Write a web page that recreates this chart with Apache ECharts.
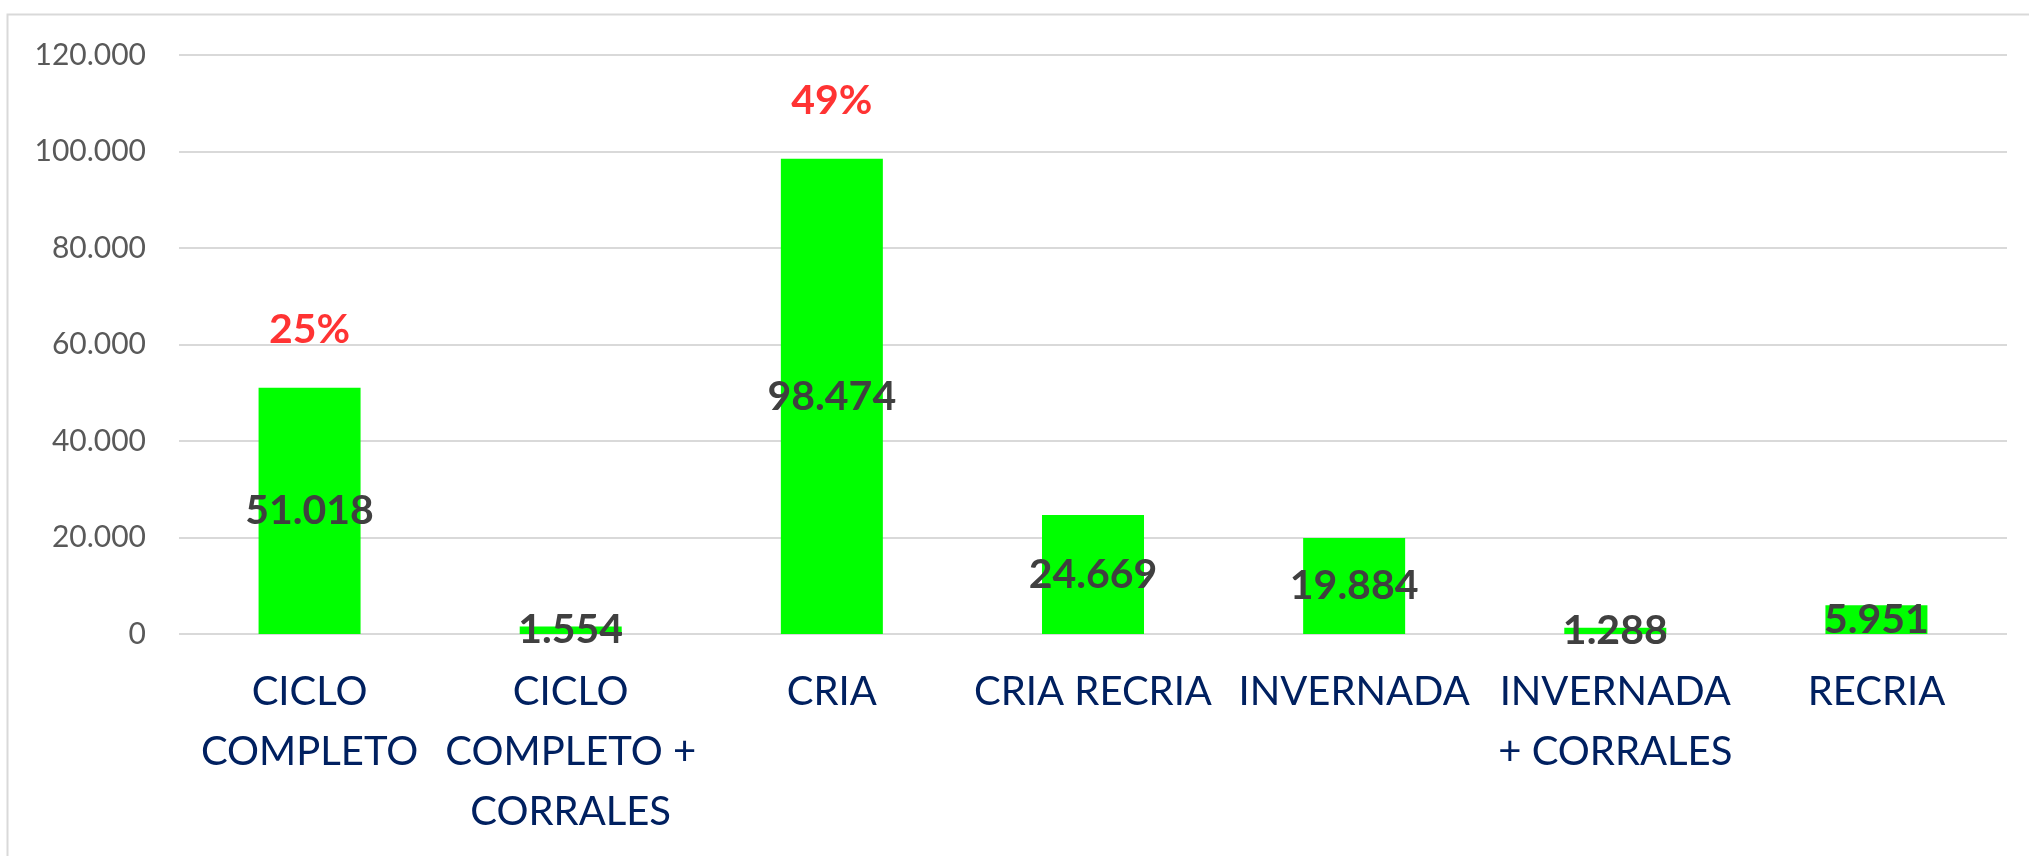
<!DOCTYPE html>
<html lang="es">
<head>
    <meta charset="UTF-8">
    <title>Establecimientos por actividad</title>
    <script src="https://cdn.jsdelivr.net/npm/echarts@6/dist/echarts.min.js"></script>
    <style>
        html, body {
            margin: 0;
            padding: 0;
            background: #ffffff;
        }
        #main {
            width: 2029px;
            height: 856px;
        }
    </style>
</head>
<body>
<div id="main"></div>

<script>
    // categorias (con saltos de linea como en el grafico original)
    var categories = [
        'CICLO\nCOMPLETO',
        'CICLO\nCOMPLETO +\nCORRALES',
        'CRIA',
        'CRIA RECRIA',
        'INVERNADA',
        'INVERNADA\n+ CORRALES',
        'RECRIA'
    ];
    var values = [51018, 1554, 98474, 24669, 19884, 1288, 5951];
    // porcentajes que se muestran en rojo (solo dos barras)
    var percentShown = [true, false, true, false, false, false, false];
    var yTicks = [0, 20000, 40000, 60000, 80000, 100000, 120000];

    var total = values.reduce(function (a, b) { return a + b; }, 0);

    // formato con punto de miles: 51018 -> 51.018
    function miles(v) {
        return String(v).replace(/\B(?=(\d{3})+(?!\d))/g, '.');
    }

    var pctData = values.map(function (v, i) {
        return percentShown[i] ? v : null;
    });

    var chart = echarts.init(document.getElementById('main'));

    chart.setOption({
        animation: false,
        backgroundColor: '#ffffff',
        textStyle: { fontFamily: 'Lato' },
        graphic: [{
            type: 'rect',
            left: 5,
            top: 12,
            shape: { width: 2100, height: 900 },
            style: { fill: 'none', stroke: '#d9d9d9', lineWidth: 2 },
            silent: true
        }],
        grid: {
            left: 179,
            right: 22,
            top: 55,
            bottom: 222,
            containLabel: false
        },
        xAxis: {
            type: 'category',
            data: categories,
            axisLine: { show: false },
            axisTick: { show: false },
            axisLabel: {
                interval: 0,
                margin: 28,
                color: '#002060',
                fontSize: 40,
                lineHeight: 60,
                fontFamily: 'Lato'
            }
        },
        yAxis: {
            type: 'value',
            min: yTicks[0],
            max: yTicks[yTicks.length - 1],
            interval: yTicks[1] - yTicks[0],
            axisLine: { show: false },
            axisTick: { show: false },
            axisLabel: {
                margin: 33,
                color: '#595959',
                fontSize: 30,
                fontFamily: 'Lato',
                formatter: function (v) { return miles(v); }
            },
            splitLine: {
                lineStyle: { color: '#d9d9d9', width: 2 }
            }
        },
        series: [{
            name: 'valores',
            type: 'bar',
            data: values,
            barWidth: 102,
            itemStyle: { color: '#00ff00' },
            label: {
                show: true,
                position: 'inside',
                color: '#404040',
                fontSize: 41,
                fontWeight: 'bold',
                fontFamily: 'Lato',
                formatter: function (p) { return miles(p.value); }
            },
            z: 2
        }, {
            name: 'porcentaje',
            type: 'scatter',
            data: pctData,
            symbolSize: 0,
            label: {
                show: true,
                position: 'top',
                distance: 38,
                color: '#ff0000',
                fontSize: 41,
                lineHeight: 41,
                fontWeight: 'bold',
                fontFamily: 'Lato',
                formatter: function (p) {
                    return Math.round(p.value / total * 100) + '%';
                }
            },
            z: 3
        }]
    });
</script>
</body>
</html>
